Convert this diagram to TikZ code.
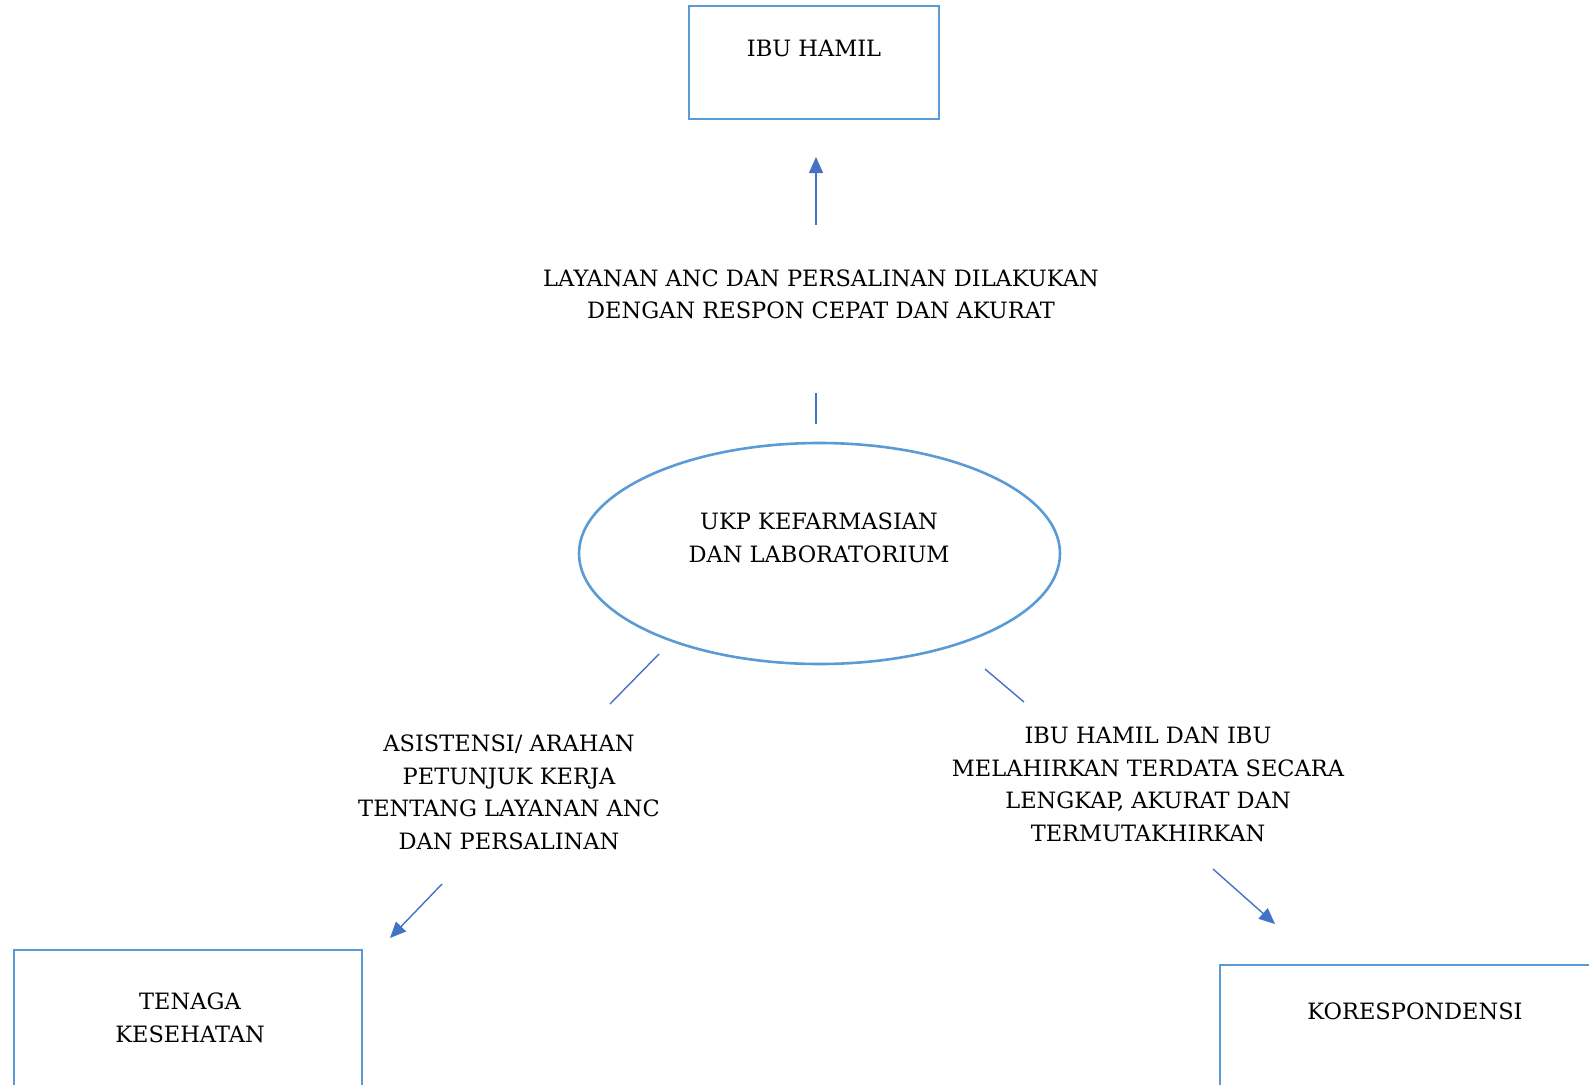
\documentclass[tikz,border=0pt]{standalone}
\usepackage{fontspec}
\setmainfont{DejaVu Serif}
\usetikzlibrary{shapes.geometric,arrows.meta}
\definecolor{boxblue}{HTML}{5B9BD5}
\definecolor{arrblue}{HTML}{4472C4}
\tikzset{
  box/.style={draw=boxblue,line width=2.8pt,rectangle,inner sep=0pt},
  oval/.style={draw=boxblue,line width=2.6pt,ellipse,inner sep=0pt,minimum width=481pt,minimum height=221pt},
  txt/.style={font=\fontsize{22.5}{32.5}\selectfont,align=center,inner sep=0pt,text=black},
  conn/.style={draw=arrblue,line width=1.4pt},
  arr/.style={conn,-{Triangle[length=16pt,width=14pt]}}
}
\begin{document}
\begin{tikzpicture}[x=1pt,y=-1pt]
\useasboundingbox (0,0) rectangle (1589,1084);
\clip (0,0) rectangle (1589,1084);
% boxes
\node[box,minimum width=250pt,minimum height=113pt] (ibu) at (814,62.5) {};
\node[txt] (ibut) at (814,48) {IBU HAMIL};
\node[box,minimum width=348pt,minimum height=200pt] (tk) at (188,1050) {};
\node[txt] (tkt) at (190,1018) {TENAGA\\KESEHATAN};
\node[box,minimum width=400pt,minimum height=200pt] (kor) at (1420,1065) {};
\node[txt] (kort) at (1415,1011) {KORESPONDENSI};
% ellipse
\node[oval] (ukp) at (819.5,553.5) {};
\node[txt] (ukpt) at (819,538) {UKP KEFARMASIAN\\DAN LABORATORIUM};
% labels
\node[txt] (l1) at (821,294.5) {LAYANAN ANC DAN PERSALINAN DILAKUKAN\\DENGAN RESPON CEPAT DAN AKURAT};
\node[txt] (l2) at (509,792.5) {ASISTENSI/ ARAHAN\\PETUNJUK KERJA\\TENTANG LAYANAN ANC\\DAN PERSALINAN};
\node[txt] (l3) at (1148,784.5) {IBU HAMIL DAN IBU\\MELAHIRKAN TERDATA SECARA\\LENGKAP, AKURAT DAN\\TERMUTAKHIRKAN};
% connector end points
\coordinate (a1) at (816,424);
\coordinate (a2) at (816,393);
\coordinate (a3) at (816,225);
\coordinate (a4) at (816,157);
\coordinate (b1) at (659,654);
\coordinate (b2) at (610,704);
\coordinate (b3) at (442,884);
\coordinate (b4) at (390,938);
\coordinate (c1) at (985,669);
\coordinate (c2) at (1024,702);
\coordinate (c3) at (1213,869);
\coordinate (c4) at (1275,924);
% connectors
\draw[conn] (a1) -- (a2);
\draw[arr] (a3) -- (a4);
\draw[conn] (b1) -- (b2);
\draw[arr] (b3) -- (b4);
\draw[conn] (c1) -- (c2);
\draw[arr] (c3) -- (c4);
\end{tikzpicture}
\end{document}
